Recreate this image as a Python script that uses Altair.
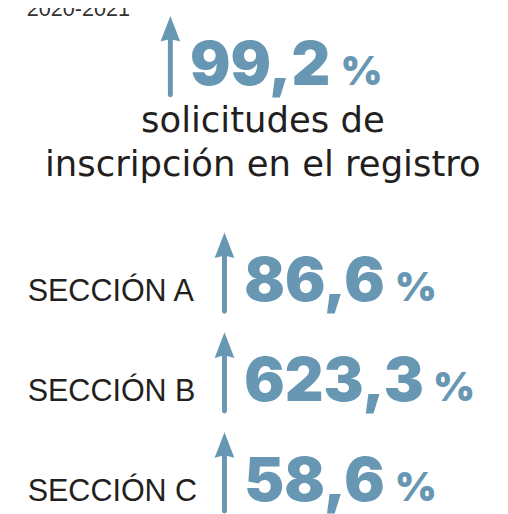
import altair as alt
import pandas as pd

# ---- data ----
year_label = "2020-2021"
headline_value = 99.2
headline_lines = ["solicitudes de", "inscripción en el registro"]
sections = ["SECCIÓN A", "SECCIÓN B", "SECCIÓN C"]
section_values = [86.6, 623.3, 58.6]

BLUE = "#6797b2"
DARK = "#231f20"


def fmt(v):
    return f"{v:.1f}".replace(".", ",")


# ---- layout (screen pixel coordinates) ----
values = [headline_value] + section_values
baselines = [82] + [302 + 101.5 * i for i in range(len(section_values))]
num_x = [193] + [248] * len(section_values)
arrow_x = [173] + [228] * len(section_values)
DIGIT_W, COMMA_W, GAP = 39, 23, 13

nums = pd.DataFrame({"text": [fmt(v) for v in values], "x": num_x, "y": baselines})
nums["px"] = [x + (len(t) - 1) * DIGIT_W + COMMA_W + GAP for x, t in zip(nums["x"], nums["text"])]

arrows = pd.DataFrame({"x": arrow_x, "base": baselines})
arrows["tip"] = arrows["base"] - 70
arrows["head"] = arrows["tip"] + 13
arrows["top"] = arrows["tip"] + 20
arrows["bottom"] = arrows["base"] + 10

secs = pd.DataFrame({"text": sections, "x": 28, "y": baselines[1:]})
head = pd.DataFrame({"text": headline_lines, "x": 267, "y": [130, 175]})
year = pd.DataFrame({"text": [year_label], "x": [27], "y": [12]})

sx = alt.Scale(domain=[8, 508], range=[0, 500], nice=False, zero=False)
sy = alt.Scale(domain=[8, 514], range=[0, 506], nice=False, zero=False)


def X(f="x"):
    return alt.X(f"{f}:Q", scale=sx, axis=None)


def Y(f="y"):
    return alt.Y(f"{f}:Q", scale=sy, axis=None)


shafts = alt.Chart(arrows).mark_rule(color=BLUE, strokeWidth=5, strokeCap="round").encode(
    x=X(), y=Y("top"), y2="bottom:Q"
)
heads = alt.Chart(arrows).mark_point(
    shape="M0,-1 L0.77,1 L0,0.8 L-0.77,1 Z", filled=True, color=BLUE, opacity=1, size=676
).encode(x=X(), y=Y("head"))

num_text = alt.Chart(nums).mark_text(
    font="Inter", fontWeight=900, fontSize=61, align="left", baseline="alphabetic", color=BLUE
).encode(x=X(), y=Y(), text="text:N")
pct_text = alt.Chart(nums).mark_text(
    font="Inter", fontWeight=900, fontSize=41, align="left", baseline="alphabetic", color=BLUE
).encode(x=X("px"), y=Y(), text=alt.value("%"))

sec_text = alt.Chart(secs).mark_text(
    font="Liberation Sans", fontSize=31, align="left", baseline="alphabetic", color=DARK
).encode(x=X(), y=Y(), text="text:N")
head_text = alt.Chart(head).mark_text(
    font="DejaVu Sans", fontSize=36, align="center", baseline="alphabetic", color=DARK
).encode(x=X(), y=Y(), text="text:N")
year_text = alt.Chart(year).mark_text(
    font="Liberation Sans", fontSize=22, align="left", baseline="alphabetic", color="#333333"
).encode(x=X(), y=Y(), text="text:N")

chart = (
    alt.layer(shafts, heads, num_text, pct_text, sec_text, head_text, year_text)
    .properties(width=500, height=506, padding=0, autosize=alt.AutoSizeParams(type="none"))
    .configure_view(stroke=None)
)

chart.save("out.html", embed_options={"renderer": "svg", "actions": False})
